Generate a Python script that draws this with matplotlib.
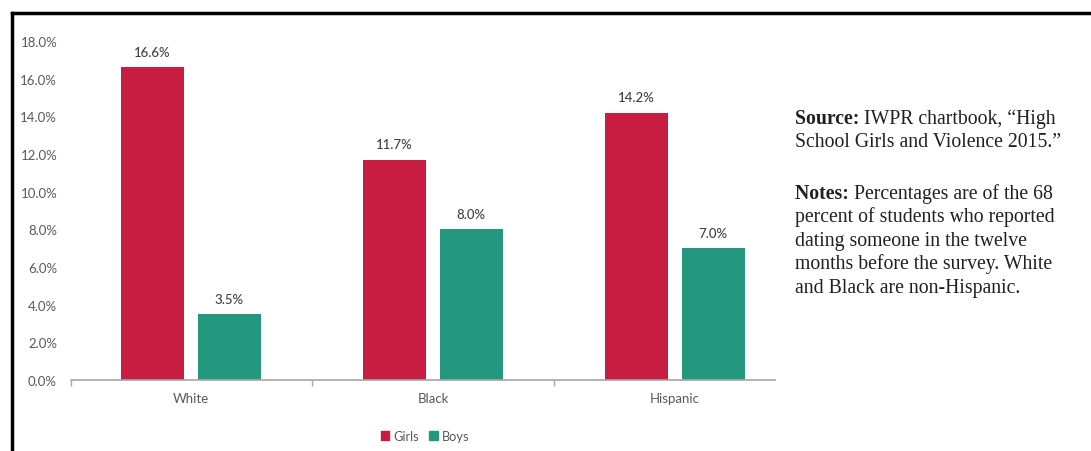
import matplotlib
matplotlib.use("Agg")
import matplotlib.pyplot as plt
from matplotlib.lines import Line2D
from matplotlib.patches import Patch

categories = ["White", "Black", "Hispanic"]
girls = [16.6, 11.7, 14.2]
boys = [3.5, 8.0, 7.0]
yticks = [0, 2, 4, 6, 8, 10, 12, 14, 16, 18]

GIRL_C = "#C81D40"
BOY_C = "#24977F"
GRAY = "#595959"
FS = 9.5

fig = plt.figure(figsize=(10.91, 4.52), dpi=100)
ax = fig.add_axes([71/1091, 1-381/452, 704/1091, 339/452])

x = list(range(len(categories)))
w = 0.26
off = 0.158
bg = ax.bar([i - off for i in x], girls, width=w, color=GIRL_C)
bb = ax.bar([i + off for i in x], boys, width=w, color=BOY_C)
for bars, vals in ((bg, girls), (bb, boys)):
    for r, v in zip(bars, vals):
        ax.text(r.get_x() + r.get_width()/2, v + 0.5, f"{v:.1f}%", ha="center", va="bottom",
                fontsize=FS, color="#404040", family="Lato", weight="medium")

ax.set_ylim(0, 18)
ax.set_xlim(-120/242, 2 + 100/242)
ax.set_yticks(yticks)
ax.set_yticklabels([f"{t:.1f}%" for t in yticks], fontsize=FS, color=GRAY, family="Lato")
ax.tick_params(axis="y", length=0, pad=10)
ax.set_xticks([-120/242, 0.5, 1.5])
ax.set_xticklabels([])
ax.tick_params(axis="x", length=4, color="#A6A6A6", width=1)
for i, c in enumerate(categories):
    ax.text(i, -0.65, c, ha="center", va="top", fontsize=FS, color=GRAY, family="Lato")
for s in ("top", "right", "left"):
    ax.spines[s].set_visible(False)
ax.spines["bottom"].set_color("#A6A6A6")
ax.spines["bottom"].set_linewidth(1.2)

handles = [Patch(color=GIRL_C, label="Girls"), Patch(color=BOY_C, label="Boys")]
leg = fig.legend(handles=handles, loc="center", bbox_to_anchor=(425/1091, 1-437/452), ncol=2,
                 frameon=False, prop={"family": "Lato", "size": 9.2}, handlelength=0.7, handleheight=0.7,
                 handletextpad=0.3, columnspacing=0.8)
for t in leg.get_texts():
    t.set_color(GRAY)

# frame
fig.add_artist(Line2D([12/1091, 12/1091], [0, 1-14/452], color="black", lw=2.5, transform=fig.transFigure))
fig.add_artist(Line2D([12/1091, 1], [1-14/452, 1-14/452], color="black", lw=2.5, transform=fig.transFigure))

# side text
sx = 795/1091
serif = "Liberation Serif"
fs = 14.2
lines1 = [("Source:", "IWPR chartbook, \u201cHigh"), (None, "School Girls and Violence 2015.\u201d")]
lines2 = [("Notes:", "Percentages are of the 68"), (None, "percent of students who reported"),
          (None, "dating someone in the twelve"), (None, "months before the survey. White"),
          (None, "and Black are non-Hispanic.")]
ys1 = [124, 147]
ys2 = [199, 222, 246, 269, 293]
for (b, t), yy in list(zip(lines1, ys1)) + list(zip(lines2, ys2)):
    if b:
        tb = fig.text(sx, 1-yy/452, b + " ", fontsize=fs, family=serif, weight="bold", va="baseline", color="#231F20")
        fig.canvas.draw()
        bbox = tb.get_window_extent()
        fig.text(bbox.x1/1091, 1-yy/452, t, fontsize=fs, family=serif, va="baseline", color="#231F20")
    else:
        fig.text(sx, 1-yy/452, t, fontsize=fs, family=serif, va="baseline", color="#231F20")

fig.savefig("out.png", dpi=100)
